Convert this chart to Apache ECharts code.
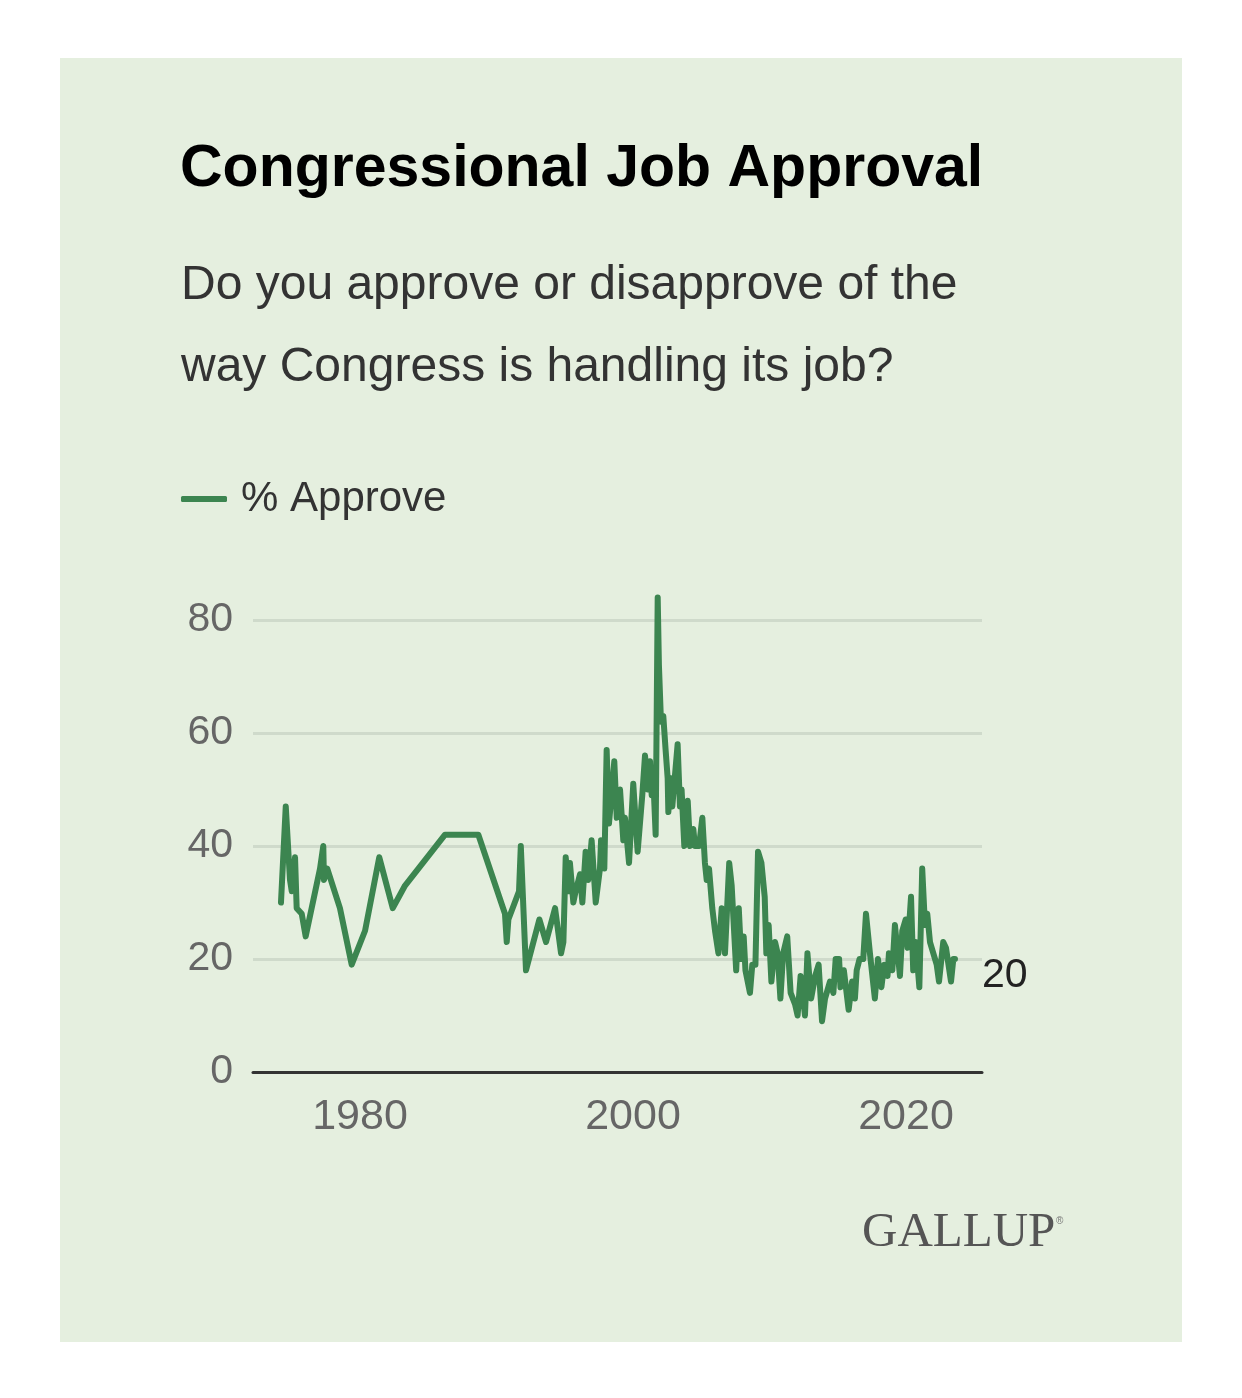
<!DOCTYPE html>
<html>
<head>
<meta charset="utf-8">
<script src="https://cdn.jsdelivr.net/npm/echarts@6/dist/echarts.min.js"></script>
<style>
  html, body { margin: 0; padding: 0; background: #ffffff; }
  #card { position: absolute; left: 60px; top: 58px; width: 1122px; height: 1284px; background: #e5efdf; }
  #chart { position: absolute; left: 0; top: 0; width: 1242px; height: 1398px; }
</style>
</head>
<body>
<div id="card"></div>
<div id="chart"></div>
<script>
// ---- data ----
const titleText = 'Congressional Job Approval';
const subtitleLines = ['Do you approve or disapprove of the', 'way Congress is handling its job?'];
const seriesName = '% Approve';
const xTickLabels = [1980, 2000, 2020];
const yTickLabels = [0, 20, 40, 60, 80];

const years = [
  1974.21, 1974.56, 1974.87, 1975.00, 1975.24, 1975.36, 1975.73, 1976.02, 1977.07, 1977.31,
  1977.36, 1977.60, 1978.53, 1979.39, 1980.37, 1981.41, 1982.40, 1983.30, 1986.23, 1988.67,
  1990.62, 1990.75, 1990.87, 1991.65, 1991.78, 1992.16, 1993.14, 1993.63, 1994.29, 1994.73,
  1994.90, 1995.07, 1995.31, 1995.38, 1995.63, 1995.80, 1996.12, 1996.29, 1996.53, 1996.72,
  1996.97, 1997.27, 1997.58, 1997.66, 1997.90, 1998.07, 1998.24, 1998.39, 1998.63, 1998.81,
  1999.05, 1999.29, 1999.41, 1999.71, 2000.02, 2000.34, 2000.68, 2000.88, 2001.08, 2001.25,
  2001.37, 2001.47, 2001.66, 2001.81, 2001.90, 2002.05, 2002.22, 2002.39, 2002.54, 2002.59,
  2002.78, 2002.88, 2003.27, 2003.44, 2003.56, 2003.76, 2004.01, 2004.18, 2004.42, 2004.54,
  2004.84, 2005.08, 2005.27, 2005.40, 2005.57, 2005.81, 2006.01, 2006.26, 2006.50, 2006.74,
  2007.05, 2007.23, 2007.56, 2007.75, 2007.93, 2008.11, 2008.24, 2008.57, 2008.74, 2008.97,
  2009.16, 2009.41, 2009.65, 2009.77, 2009.94, 2010.14, 2010.41, 2010.60, 2010.80, 2011.00,
  2011.30, 2011.55, 2011.87, 2012.06, 2012.28, 2012.60, 2012.78, 2013.05, 2013.35, 2013.60,
  2013.85, 2014.07, 2014.43, 2014.68, 2014.85, 2015.10, 2015.20, 2015.45, 2015.80, 2016.05,
  2016.26, 2016.39, 2016.60, 2016.87, 2017.07, 2017.36, 2017.72, 2017.95, 2018.20, 2018.40,
  2018.65, 2018.75, 2019.00, 2019.19, 2019.56, 2019.73, 2019.98, 2020.12, 2020.37, 2020.53,
  2020.71, 2020.98, 2021.19, 2021.39, 2021.56, 2021.76, 2022.25, 2022.42, 2022.73, 2022.93,
  2023.30, 2023.47, 2023.59
];
const approve = [
  30, 47, 34, 32, 38, 29, 28, 24, 36, 40,
  34, 36, 29, 19, 25, 38, 29, 33, 42, 42,
  28, 23, 27, 32, 40, 18, 27, 23, 29, 21,
  23, 38, 32, 37, 30, 32, 35, 30, 39, 34,
  41, 30, 36, 41, 36, 57, 44, 48, 55, 45,
  50, 41, 45, 37, 51, 39, 49, 56, 50, 55,
  49, 53, 42, 84, 72, 62, 63, 57, 52, 46,
  52, 47, 58, 47, 50, 40, 48, 40, 43, 40,
  40, 45, 37, 34, 36, 29, 25, 21, 29, 21,
  37, 33, 18, 29, 20, 24, 18, 14, 19, 19,
  39, 37, 31, 21, 26, 16, 23, 21, 13, 21,
  24, 14, 12, 10, 17, 10, 21, 13, 17, 19,
  9, 13, 16, 14, 20, 20, 15, 18, 11, 16,
  13, 18, 20, 20, 28, 21, 13, 20, 15, 19,
  17, 21, 18, 26, 17, 25, 27, 22, 31, 18,
  23, 15, 36, 26, 28, 23, 19, 16, 23, 22,
  16, 20, 20
];

const seriesData = years.map((y, i) => [y, approve[i]]);

const GREEN = '#3c8550';
const FONT = '"Liberation Sans", Arial, sans-serif';
const chart = echarts.init(document.getElementById('chart'), null, { renderer: 'canvas' });
chart.setOption({
  backgroundColor: 'transparent',
  animation: false,
  graphic: [
    { type: 'text', left: 180, top: 140, style: { text: titleText, font: 'bold 59px ' + FONT, fill: '#000000' } },
    { type: 'text', left: 181, top: 245, style: { text: subtitleLines.join('\n'), font: '48px ' + FONT, lineHeight: 82, fill: '#333333' } },
    { type: 'text', left: 862, top: 1209, style: { text: 'GALLUP', font: '49px "Liberation Serif", "DejaVu Serif", serif', fill: '#555555' } },
    { type: 'text', left: 1056, top: 1216, style: { text: '®', font: '10px ' + FONT, fill: '#777777' } }
  ],
  legend: {
    left: 176, top: 473,
    icon: 'roundRect', itemWidth: 46, itemHeight: 6, itemGap: 20,
    textStyle: { fontSize: 42, color: '#333333', fontFamily: FONT, padding: [0, 0, 0, 9] },
    data: [seriesName]
  },
  grid: { left: 253, right: 260, top: 620, bottom: 326, containLabel: false },
  xAxis: {
    type: 'value', min: 1972.16, max: 2025.57,
    axisLine: { show: true, lineStyle: { color: '#333333', width: 3 } },
    axisTick: { show: false },
    splitLine: { show: false },
    axisLabel: { customValues: xTickLabels, fontSize: 43, color: '#666666', margin: 24, fontFamily: FONT, formatter: v => String(v) }
  },
  yAxis: {
    type: 'value', min: 0, max: 80, interval: 20,
    axisLine: { show: false }, axisTick: { show: false },
    splitLine: { show: true, lineStyle: { color: '#cfdacb', width: 3 } },
    axisLabel: { fontSize: 41, color: '#666666', margin: 20, fontFamily: FONT, padding: [4, 0, 0, 0] }
  },
  series: [{
    name: seriesName, type: 'line', data: seriesData,
    showSymbol: false, symbol: 'none', clip: false,
    lineStyle: { color: GREEN, width: 6, join: 'round', cap: 'round' },
    itemStyle: { color: GREEN },
    endLabel: { show: true, formatter: p => String(p.value[1]), fontSize: 41, color: '#222222', distance: 27, offset: [0, 17], fontFamily: FONT }
  }]
});
</script>
</body>
</html>
